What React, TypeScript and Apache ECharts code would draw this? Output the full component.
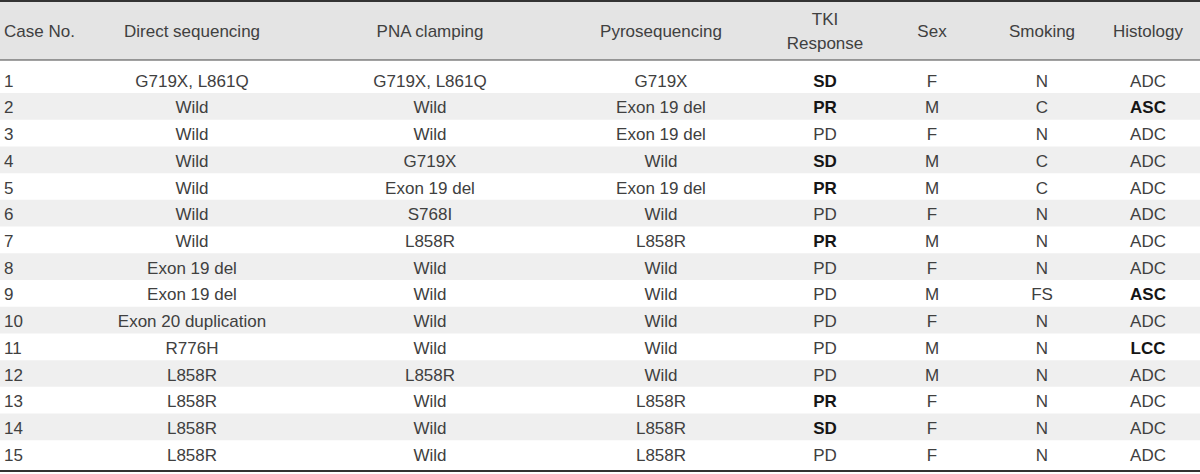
import React, { useEffect, useRef } from "react";
import * as echarts from "echarts";

const headers = ["Case No.", "Direct sequencing", "PNA clamping", "Pyrosequencing", "TKI\nResponse", "Sex", "Smoking", "Histology"];
const caseNos = ["1", "2", "3", "4", "5", "6", "7", "8", "9", "10", "11", "12", "13", "14", "15"];
const directSeq = ["G719X, L861Q", "Wild", "Wild", "Wild", "Wild", "Wild", "Wild", "Exon 19 del", "Exon 19 del", "Exon 20 duplication", "R776H", "L858R", "L858R", "L858R", "L858R"];
const pnaClamping = ["G719X, L861Q", "Wild", "Wild", "G719X", "Exon 19 del", "S768I", "L858R", "Wild", "Wild", "Wild", "Wild", "L858R", "Wild", "Wild", "Wild"];
const pyroSeq = ["G719X", "Exon 19 del", "Exon 19 del", "Wild", "Exon 19 del", "Wild", "L858R", "Wild", "Wild", "Wild", "Wild", "Wild", "L858R", "L858R", "L858R"];
const tkiResponse = ["SD", "PR", "PD", "SD", "PR", "PD", "PR", "PD", "PD", "PD", "PD", "PD", "PR", "SD", "PD"];
const sex = ["F", "M", "F", "M", "M", "F", "M", "F", "M", "F", "M", "M", "F", "F", "F"];
const smoking = ["N", "C", "N", "C", "C", "N", "N", "N", "FS", "N", "N", "N", "N", "N", "N"];
const histology = ["ADC", "ASC", "ADC", "ADC", "ADC", "ADC", "ADC", "ADC", "ASC", "ADC", "LCC", "ADC", "ADC", "ADC", "ADC"];
const boldTki = ["SD", "PR"];
const boldHistology = ["ASC", "LCC"];

// layout (column anchors on a 0..1200 value axis)
const colX = [4, 192, 430, 661, 825, 932, 1042, 1148];
const colAlign = ["left", "center", "center", "center", "center", "center", "center", "center"];

const FONT = "'Liberation Sans', Arial, sans-serif";
const TEXT_COLOR = "#404040";
const BOLD_COLOR = "#151515";

export default function App() {
  const ref = useRef<HTMLDivElement>(null);
  useEffect(() => {
    if (!ref.current) return;
    const chart = echarts.init(ref.current, null, { renderer: "svg" });
    const columns = [caseNos, directSeq, pnaClamping, pyroSeq, tkiResponse, sex, smoking, histology];
    const isBold = (c: number, v: string) =>
      (c === 4 && boldTki.includes(v)) || (c === 7 && boldHistology.includes(v));

    const headerTexts = headers.map((h, c) => ({
      type: "text",
      x: colX[c],
      y: 31.5,
      style: {
        text: h,
        x: 0,
        y: 0,
        align: colAlign[c],
        verticalAlign: "middle",
        textAlign: colAlign[c],
        textVerticalAlign: "middle",
        fontSize: 17,
        fontFamily: FONT,
        lineHeight: 24,
        fill: TEXT_COLOR,
      },
      z: 10,
    }));

    chart.setOption({
      animation: false,
      grid: { left: 0, right: 0, top: 66.3, bottom: 7, containLabel: false },
      xAxis: { type: "value", min: 0, max: 1200, show: false },
      yAxis: { type: "category", data: caseNos, inverse: true, show: false },
      graphic: [
        { type: "rect", shape: { x: 0, y: 1, width: 1200, height: 59 }, style: { fill: "#e4e4e4" }, z: 1 },
        { type: "line", shape: { x1: 0, y1: 1, x2: 1200, y2: 1 }, style: { stroke: "#333333", lineWidth: 2 }, z: 5 },
        { type: "line", shape: { x1: 0, y1: 60, x2: 1200, y2: 60 }, style: { stroke: "#444444", lineWidth: 1 }, z: 5 },
        { type: "line", shape: { x1: 0, y1: 471, x2: 1200, y2: 471 }, style: { stroke: "#333333", lineWidth: 2 }, z: 5 },
        ...headerTexts,
      ],
      series: [
        {
          type: "custom",
          coordinateSystem: "cartesian2d",
          encode: { x: 0, y: 1 },
          data: caseNos.map((_, i) => [0, i]),
          renderItem: (params: any, api: any) => {
            const i = api.value(1);
            const center = api.coord([0, i]);
            const h = api.size([0, 1])[1];
            const children: any[] = [];
            if (i % 2 === 1) {
              children.push({
                type: "rect",
                shape: { x: 0, y: center[1] - h / 2, width: 1200, height: h },
                style: { fill: "#efefef" },
              });
            }
            columns.forEach((col, c) => {
              const v = col[i];
              const p = api.coord([colX[c], i]);
              const bold = isBold(c, v);
              children.push({
                type: "text",
                style: {
                  text: v,
                  x: p[0],
                  y: p[1] + 1.5,
                  align: colAlign[c],
                  verticalAlign: "middle",
                  textAlign: colAlign[c],
                  textVerticalAlign: "middle",
                  fontSize: 17,
                  fontFamily: FONT,
                  fontWeight: bold ? "bold" : "normal",
                  fill: bold ? BOLD_COLOR : TEXT_COLOR,
                },
              });
            });
            return { type: "group", children };
          },
        },
      ],
    });
    return () => chart.dispose();
  }, []);
  return (
    <div
      ref={ref}
      style={{ position: "absolute", left: 0, top: 0, width: 1200, height: 474, background: "#ffffff" }}
    />
  );
}
